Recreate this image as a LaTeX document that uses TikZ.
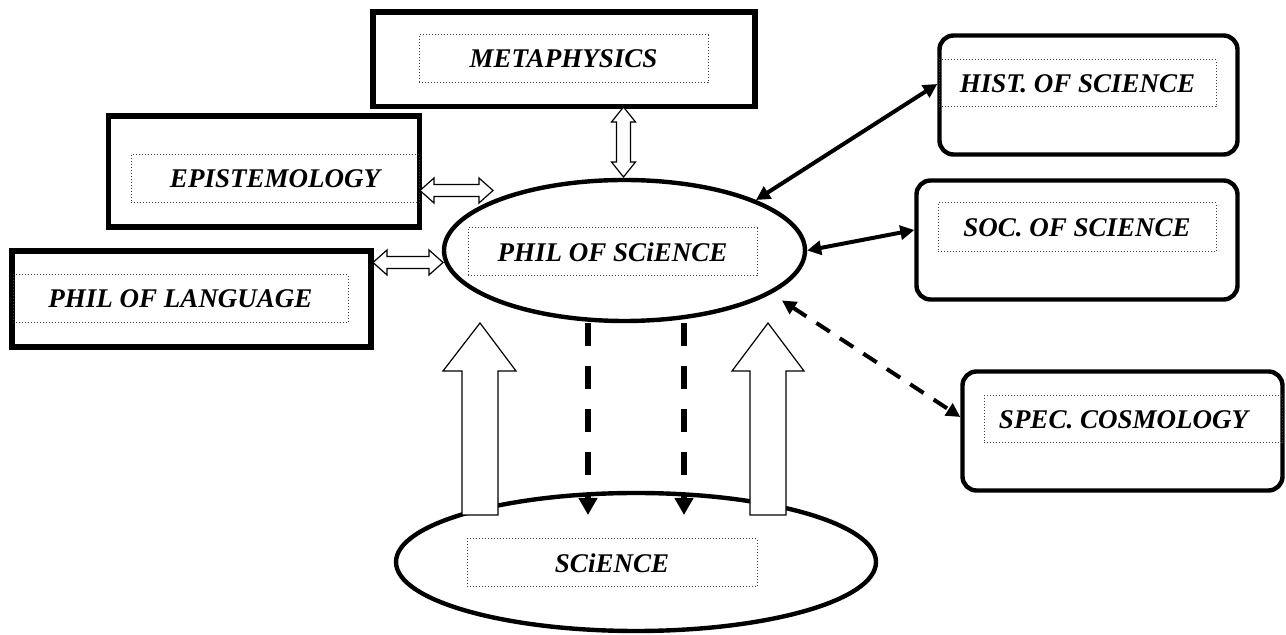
\documentclass[tikz,border=0pt]{standalone}
\usepackage{fontspec}
\setmainfont{Liberation Serif}
\usetikzlibrary{arrows.meta,shapes.geometric,fit,calc}
\newcommand\hdbl[3]{%
  \draw[hollow] (#1,#3) -- ({#1+14},{#3-12.5}) -- ({#1+14},{#3-6}) -- ({#2-14},{#3-6}) -- ({#2-14},{#3-12.5}) -- (#2,#3)
     -- ({#2-14},{#3+12.5}) -- ({#2-14},{#3+6}) -- ({#1+14},{#3+6}) -- ({#1+14},{#3+12.5}) -- cycle;}
\newcommand\vdbl[3]{%
  \draw[hollow] (#3,#1) -- ({#3-12},{#1+15}) -- ({#3-7},{#1+15}) -- ({#3-7},{#2-15}) -- ({#3-12},{#2-15}) -- (#3,#2)
     -- ({#3+12},{#2-15}) -- ({#3+7},{#2-15}) -- ({#3+7},{#1+15}) -- ({#3+12},{#1+15}) -- cycle;}
\begin{document}
\begin{tikzpicture}[x=0.5pt,y=-0.5pt,
  sqbox/.style={draw, line width=2.6pt, inner sep=0pt},
  rbox/.style={draw, line width=2.2pt, rounded corners=7pt, inner sep=0pt},
  oval/.style={ellipse, draw, line width=2.2pt, inner sep=0pt, fill=white},
  lbl/.style={draw=black!75, densely dotted, line width=0.5pt, inner sep=0pt,
              font=\fontsize{13.5}{15}\selectfont\bfseries\itshape},
  hollow/.style={draw, line width=0.6pt, fill=white, line join=miter},
  link/.style={line width=2pt, {Triangle[length=7pt,width=7pt]}-{Triangle[length=7pt,width=7pt]}},
  dlink/.style={line width=2pt, dash pattern=on 8pt off 6pt, {Triangle[length=7pt,width=7pt]}-{Triangle[length=7pt,width=7pt]}},
  vdash/.style={line width=3pt, dash pattern=on 11.5pt off 10pt, -{Triangle[length=8.5pt,width=9pt]}},
  blockup/.style={draw, line width=0.6pt, fill=white, line join=miter}]
\useasboundingbox (0,0) rectangle (1286,635);

% outer boxes
\node[sqbox, fit={(373,12)(755,106.5)}] (meta) {};
\node[sqbox, fit={(108.5,116)(419.5,227)}] (epi) {};
\node[sqbox, fit={(12,251)(371,347)}] (lang) {};
\node[rbox, fit={(939.5,35.5)(1237.5,154.5)}] (hist) {};
\node[rbox, fit={(916.5,180.5)(1237.5,299.5)}] (soc) {};
\node[rbox, fit={(962.5,371.5)(1282.5,490.5)}] (spec) {};

% ellipses
\node[oval, minimum width=240pt, minimum height=69pt] (sci) at (636,562) {};
\node[oval, minimum width=180.5pt, minimum height=70.5pt] (phil) at (624.5,250.5) {};

% labels
\node[lbl, minimum width=144.5pt, minimum height=24pt] (metal) at (563.5,59) {METAPHYSICS};
\node[lbl, minimum width=144pt, minimum height=24pt] (epil) at (275,179) {EPISTEMOLOGY};
\node[lbl, minimum width=167.5pt, minimum height=24pt] (langl) at (180.5,299) {PHIL OF LANGUAGE};
\node[lbl, minimum width=144.5pt, minimum height=24pt] (phill) at (612.5,252) {PHIL OF SCiENCE};
\node[lbl, minimum width=138.5pt, minimum height=23.5pt] (histl) at (1077.5,83.5) {HIST. OF SCIENCE};
\node[lbl, minimum width=139pt, minimum height=24.5pt] (socl) at (1077,227.5) {SOC. OF SCIENCE};
\node[lbl, minimum width=149pt, minimum height=23.5pt] (specl) at (1133,419.5) {\hspace*{-9.5pt}SPEC. COSMOLOGY};
\node[lbl, minimum width=145pt, minimum height=24pt] (scil) at (612,563) {SCiENCE};

% hollow double arrows
\vdbl{107}{177}{623.5}
\hdbl{420}{493}{190.5}
\hdbl{373}{443}{262.5}

% block arrows from science up to phil of science
\draw[blockup] (462,515) -- (462,371) -- (443,371) -- (480,323) -- (516,371) -- (498,371) -- (498,515) -- cycle;
\draw[blockup] (750,515) -- (750,371) -- (732,371) -- (768,323) -- (804,371) -- (786,371) -- (786,515) -- cycle;

% dashed arrows down to science
\coordinate (d1) at (588,515);
\coordinate (d2) at (684,515);
\draw[vdash] (phil.south -| d1) -- (d1);
\draw[vdash] (phil.south -| d2) -- (d2);

% links to the right
\draw[link] (phil.21) -- ([yshift=5.5pt]hist.west);
\draw[link] (phil.east) -- ([yshift=5pt]soc.west);
\draw[dlink] ([xshift=8pt,yshift=-2pt]phil.-18) -- ([yshift=7pt]spec.west);
\end{tikzpicture}
\end{document}
